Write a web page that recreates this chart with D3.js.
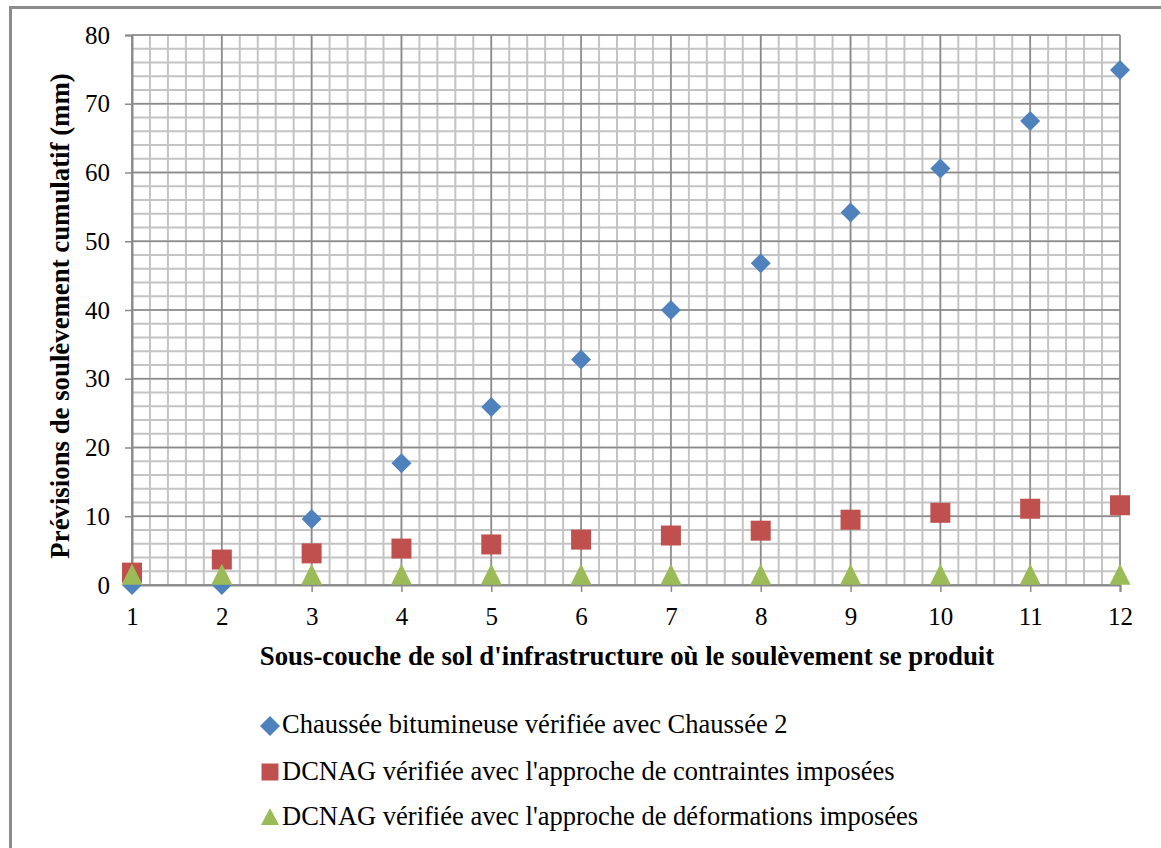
<!DOCTYPE html>
<html>
<head>
<meta charset="utf-8">
<script src="https://cdn.jsdelivr.net/npm/d3@7"></script>
<style>
  html, body { margin: 0; padding: 0; background: #fff; }
  svg { display: block; }
  text { font-family: "Liberation Serif", Tinos, "Times New Roman", Times, serif !important; fill: #000; }
</style>
</head>
<body>
<svg id="chart" width="1161" height="848"></svg>
<script>
const categories = [1, 2, 3, 4, 5, 6, 7, 8, 9, 10, 11, 12];
const chausseeValues = [0, 0, 9.6, 17.7, 25.9, 32.8, 40.0, 46.8, 54.2, 60.6, 67.5, 74.9];
const contraintesValues = [1.8, 3.7, 4.6, 5.3, 5.9, 6.6, 7.2, 7.9, 9.5, 10.5, 11.1, 11.6];
const deformationsValues = [1.5, 1.5, 1.5, 1.5, 1.5, 1.5, 1.5, 1.5, 1.5, 1.5, 1.5, 1.5];
const yTicks = [0, 10, 20, 30, 40, 50, 60, 70, 80];
const seriesNames = [
  "Chaussée bitumineuse vérifiée avec Chaussée 2",
  "DCNAG vérifiée avec l'approche de contraintes imposées",
  "DCNAG vérifiée avec l'approche de déformations imposées"
];
const seriesColors = ["#4F81BD", "#C0504D", "#9BBB59"];
const seriesShapes = ["diamond", "square", "triangle"];
const xTitle = "Sous-couche de sol d'infrastructure où le soulèvement se produit";
const yTitle = "Prévisions de soulèvement cumulatif (mm)";

const svg = d3.select("#chart");
const pL = 132, pR = 1120, pT = 35, pB = 585;

svg.append("rect").attr("x", 10.5).attr("y", 7.5).attr("width", 1200).attr("height", 1000)
  .attr("fill", "none").attr("stroke", "#8c8c8c").attr("stroke-width", 3);

const x = d3.scaleLinear().domain([1, 12]).range([pL, pR]);
const y = d3.scaleLinear().domain([0, 80]).range([pB, pT]);

const grid = svg.append("g");
const minorX = d3.range(0, 56).map(i => 1 + i * 0.2);
grid.selectAll("line.mvx").data(minorX).join("line")
  .attr("x1", d => x(d)).attr("x2", d => x(d)).attr("y1", pT).attr("y2", pB)
  .attr("stroke", "#c4c4c4").attr("stroke-width", 2);
const minorY = d3.range(0, 41).map(i => i * 2);
grid.selectAll("line.mhy").data(minorY).join("line")
  .attr("x1", pL).attr("x2", pR).attr("y1", d => y(d)).attr("y2", d => y(d))
  .attr("stroke", "#c4c4c4").attr("stroke-width", 2);
grid.selectAll("line.Mx").data(categories).join("line")
  .attr("x1", d => x(d)).attr("x2", d => x(d)).attr("y1", pT).attr("y2", pB)
  .attr("stroke", "#8a8a8a").attr("stroke-width", 1.5);
grid.selectAll("line.My").data(yTicks).join("line")
  .attr("x1", pL).attr("x2", pR).attr("y1", d => y(d)).attr("y2", d => y(d))
  .attr("stroke", "#8a8a8a").attr("stroke-width", 1.5);

const yAxis = d3.axisLeft(y).tickValues(yTicks).tickSize(7).tickPadding(15).tickFormat(d3.format("d"));
const gy = svg.append("g").attr("transform", `translate(${pL},0)`).call(yAxis);
gy.attr("font-family", null);
gy.select(".domain").attr("stroke", "#8a8a8a").attr("stroke-width", 2);
gy.selectAll(".tick line").attr("stroke", "#8a8a8a").attr("stroke-width", 1.5);
gy.selectAll(".tick text").style("font-size", "25px").attr("fill", "#000");

const xAxis = d3.axisBottom(x).tickValues(categories).tickSize(7).tickPadding(15).tickFormat(d3.format("d"));
const gx = svg.append("g").attr("transform", `translate(0,${pB})`).call(xAxis);
gx.attr("font-family", null);
gx.select(".domain").attr("stroke", "#8a8a8a").attr("stroke-width", 2);
gx.selectAll(".tick line").attr("stroke", "#8a8a8a").attr("stroke-width", 1.5);
gx.selectAll(".tick text").style("font-size", "25px").attr("fill", "#000");

svg.append("text").attr("x", 627).attr("y", 665).attr("text-anchor", "middle")
  .style("font-size", "26.8px").style("font-weight", "bold").text(xTitle);
svg.append("text").attr("transform", `translate(69,316) rotate(-90)`)
  .attr("text-anchor", "middle").style("font-size", "26.8px").style("font-weight", "bold").text(yTitle);

function shapePath(shape, cx, cy) {
  if (shape === "diamond") return `M${cx},${cy - 10}L${cx + 10},${cy}L${cx},${cy + 10}L${cx - 10},${cy}Z`;
  if (shape === "square") return `M${cx - 10},${cy - 10}h20v20h-20Z`;
  return `M${cx},${cy - 11}L${cx + 10.5},${cy + 10}L${cx - 10.5},${cy + 10}Z`;
}
const seriesData = [chausseeValues, contraintesValues, deformationsValues];
seriesData.forEach((vals, i) => {
  svg.append("g").selectAll("path").data(vals).join("path")
    .attr("d", (v, j) => shapePath(seriesShapes[i], x(categories[j]), y(v)))
    .attr("fill", seriesColors[i]);
});

const legMarkY = [726, 772, 817];
const legTextY = [733, 780, 825];
seriesNames.forEach((name, i) => {
  const g = svg.append("g");
  const cx = 270, cy = legMarkY[i];
  let d;
  if (seriesShapes[i] === "diamond") d = `M${cx},${cy - 10}L${cx + 10},${cy}L${cx},${cy + 10}L${cx - 10},${cy}Z`;
  else if (seriesShapes[i] === "square") d = `M${cx - 8.5},${cy - 8.5}h17v17h-17Z`;
  else d = `M${cx},${cy - 9}L${cx + 9},${cy + 8}L${cx - 9},${cy + 8}Z`;
  g.append("path").attr("d", d).attr("fill", seriesColors[i]);
  g.append("text").attr("x", 282).attr("y", legTextY[i])
    .style("font-size", "26.5px").text(name);
});
</script>
</body>
</html>
